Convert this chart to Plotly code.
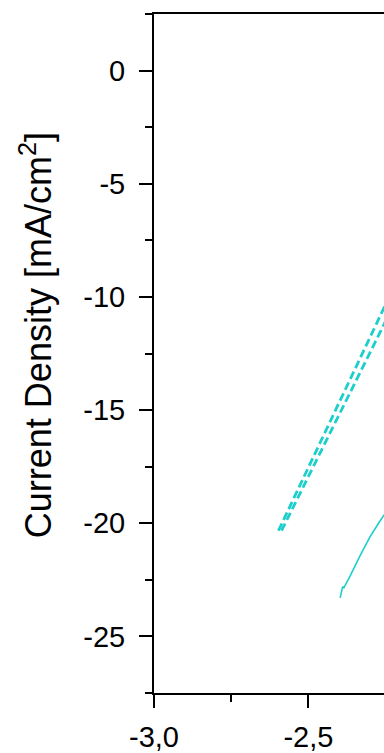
import plotly.graph_objects as go

# Data
dash_a_x = [-2.597, -2.526, -2.461, -2.397, -2.332, -2.268, -2.240]
dash_a_y = [-20.33, -18.28, -16.40, -14.57, -12.70, -10.86, -10.05]

dash_b_x = [-2.587, -2.490, -2.390, -2.326, -2.258, -2.240]
dash_b_y = [-20.33, -17.67, -14.92, -13.13, -11.30, -10.80]

solid_x = [-2.397, -2.392, -2.389, -2.385, -2.365, -2.332, -2.300, -2.268, -2.248]
solid_y = [-23.30, -23.05, -22.80, -22.85, -22.34, -21.42, -20.59, -19.90, -19.50]

x_tickvals = [-3.0, -2.5]
x_ticktext = ["-3,0", "-2,5"]
y_tickvals = [0, -5, -10, -15, -20, -25]
y_ticktext = ["0", "-5", "-10", "-15", "-20", "-25"]

color = "#1ccfcb"
font = "Liberation Sans, Arial, sans-serif"

fig = go.Figure()
fig.add_trace(go.Scatter(x=dash_a_x, y=dash_a_y, mode="lines",
                         line=dict(color=color, width=2.8, dash="8px,4px")))
fig.add_trace(go.Scatter(x=dash_b_x, y=dash_b_y, mode="lines",
                         line=dict(color=color, width=2.8, dash="8px,4px")))
fig.add_trace(go.Scatter(x=solid_x, y=solid_y, mode="lines",
                         line=dict(color=color, width=1.6)))

axis_common = dict(showgrid=False, zeroline=False, showline=True, linecolor="black",
                   linewidth=2, ticks="outside", ticklen=13, tickwidth=2,
                   tickcolor="black", tickfont=dict(family=font, size=29, color="black"))

fig.update_layout(
    width=384, height=753,
    margin=dict(l=154, r=0, t=14, b=53, pad=0),
    paper_bgcolor="white", plot_bgcolor="white",
    showlegend=False,
    xaxis=dict(range=[-3.0, -2.255], tickvals=x_tickvals, ticktext=x_ticktext,
               mirror=True, ticklabelstandoff=4,
               minor=dict(dtick=0.25, tick0=-3.0, ticks="outside", ticklen=7,
                          tickwidth=2, tickcolor="black"),
               **axis_common),
    yaxis=dict(range=[-27.5, 2.5], tickvals=y_tickvals, ticktext=y_ticktext,
               mirror=False, ticklabelstandoff=8,
               minor=dict(dtick=2.5, tick0=0, ticks="outside", ticklen=7,
                          tickwidth=2, tickcolor="black"),
               **axis_common),
    shapes=[
        dict(type="line", xref="paper", xsizemode="pixel", xanchor=0, x0=-6, x1=0,
             yref="paper", y0=1, y1=1, line=dict(color="black", width=2)),
        dict(type="line", xref="paper", xsizemode="pixel", xanchor=0, x0=-6, x1=0,
             yref="paper", y0=0, y1=0, line=dict(color="black", width=2)),
    ],
    annotations=[
        dict(text="Current Density [mA/cm<sup>2</sup>]", textangle=-90,
             xref="paper", yref="paper", x=-0.513, y=0.527, xanchor="center",
             yanchor="middle", showarrow=False,
             font=dict(family=font, size=36, color="black")),
    ],
)

fig.write_html("out.html",
               config={"displayModeBar": False, "responsive": False},
               post_script="document.body.style.margin='0px';document.body.style.overflow='hidden';")
